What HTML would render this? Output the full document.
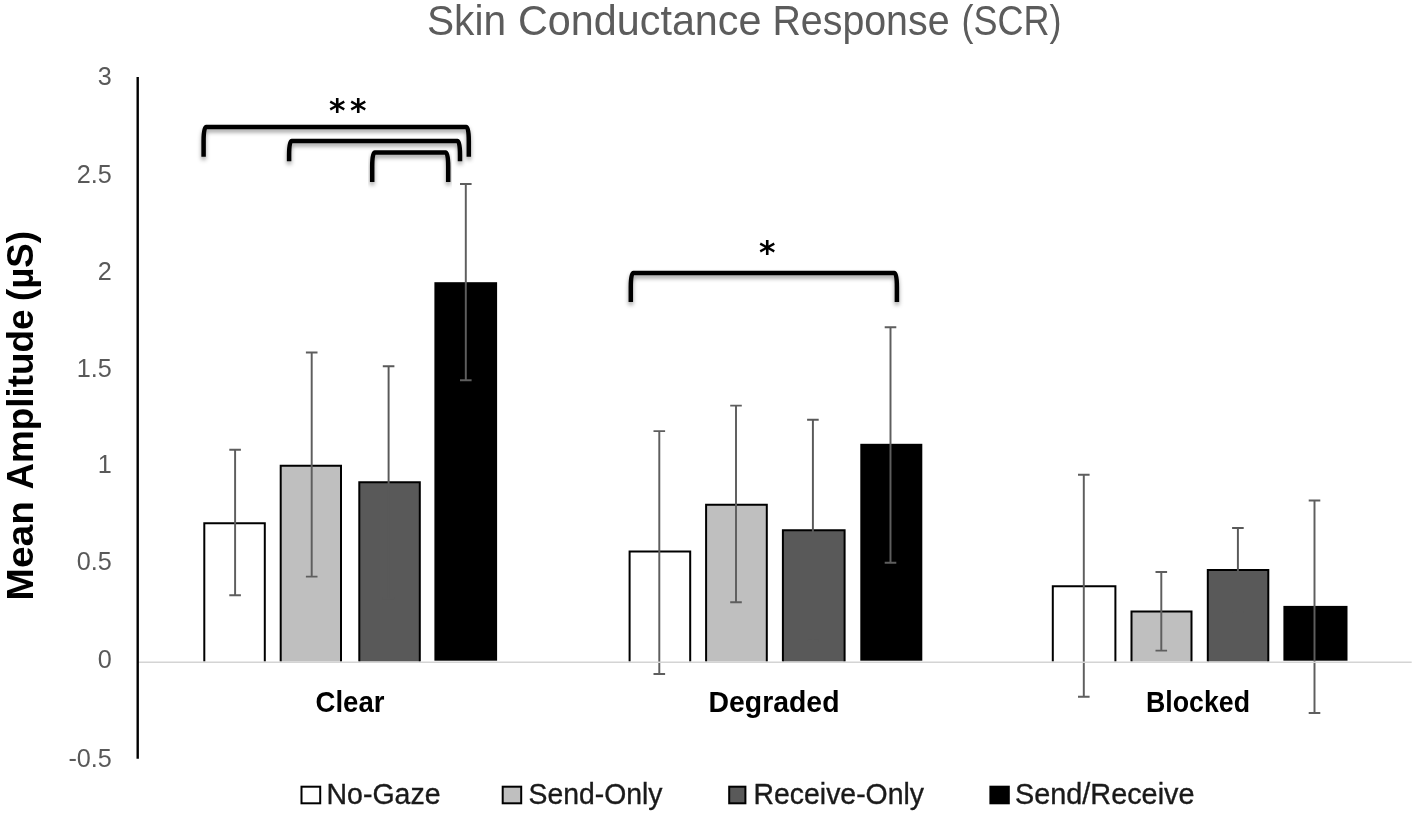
<!DOCTYPE html>
<html lang="en">
<head>
<meta charset="utf-8">
<title>Skin Conductance Response (SCR)</title>
<style>
html,body{margin:0;padding:0;background:#ffffff;}
body{width:1417px;height:816px;overflow:hidden;}
svg{display:block;filter:blur(0.45px);}
text{font-family:"Liberation Sans",sans-serif;}
.ttl{font-size:42.8px;fill:#5c5c5c;}
.ytl{font-size:37.6px;font-weight:bold;fill:#000000;}
.tick{font-size:25.2px;fill:#595959;text-anchor:end;}
.cat{font-size:29.5px;font-weight:bold;fill:#000000;}
.leg{font-size:29px;fill:#1a1a1a;stroke:#1a1a1a;stroke-width:0.35px;}
.star{font-family:"DejaVu Sans","Liberation Sans",sans-serif;font-weight:bold;font-size:31.5px;fill:#000000;text-anchor:middle;}
</style>
</head>
<body>
<svg width="1417" height="816" viewBox="0 0 1417 816">
<defs>
<filter id="sh" x="-5%" y="-30%" width="110%" height="180%">
<feDropShadow dx="0" dy="3" stdDeviation="2.2" flood-color="#000000" flood-opacity="0.38"/>
</filter>
</defs>
<rect x="0" y="0" width="1417" height="816" fill="#ffffff"/>
<text class="ttl"><tspan x="426.93" y="34.6" textLength="79.14" lengthAdjust="spacingAndGlyphs">Skin</tspan> <tspan x="517.99" y="34.6" textLength="243.52" lengthAdjust="spacingAndGlyphs">Conductance</tspan> <tspan x="772.48" y="34.6" textLength="177.04" lengthAdjust="spacingAndGlyphs">Response</tspan> <tspan x="961.45" y="34.6" textLength="100.11" lengthAdjust="spacingAndGlyphs">(SCR)</tspan></text>
<text class="cat" x="315.53" y="711.5" textLength="68.97" lengthAdjust="spacingAndGlyphs">Clear</text>
<text class="cat" x="708.50" y="711.5" textLength="131.00" lengthAdjust="spacingAndGlyphs">Degraded</text>
<text class="cat" x="1146.00" y="711.5" textLength="103.99" lengthAdjust="spacingAndGlyphs">Blocked</text>
<text class="leg" x="326.48" y="803.9" textLength="114.03" lengthAdjust="spacingAndGlyphs">No-Gaze</text>
<text class="leg" x="528.52" y="803.9" textLength="133.99" lengthAdjust="spacingAndGlyphs">Send-Only</text>
<text class="leg" x="753.50" y="803.9" textLength="170.50" lengthAdjust="spacingAndGlyphs">Receive-Only</text>
<text class="leg" x="1015.00" y="803.9" textLength="179.50" lengthAdjust="spacingAndGlyphs">Send/Receive</text>
<text class="ytl" transform="rotate(-90)"><tspan x="-600.54" y="33" textLength="99.57" lengthAdjust="spacingAndGlyphs">Mean</tspan> <tspan x="-489.50" y="33" textLength="180.00" lengthAdjust="spacingAndGlyphs">Amplitude</tspan> <tspan x="-301.00" y="33" textLength="70.00" lengthAdjust="spacingAndGlyphs">(µS)</tspan></text>
<text class="tick" x="111.8" y="85.2">3</text>
<text class="tick" x="111.8" y="182.7">2.5</text>
<text class="tick" x="111.8" y="279.8">2</text>
<text class="tick" x="111.8" y="376.5">1.5</text>
<text class="tick" x="111.8" y="473.3">1</text>
<text class="tick" x="111.8" y="570.4">0.5</text>
<text class="tick" x="111.8" y="667.5">0</text>
<text class="tick" x="111.8" y="767.2">-0.5</text>
<path d="M204.3 661.5V523.3H264.8V661.5" fill="#ffffff" stroke="#000000" stroke-width="2"/>
<path d="M280.7 661.5V465.7H341.0V661.5" fill="#bfbfbf" stroke="#000000" stroke-width="2"/>
<path d="M359.3 661.5V482.2H419.8V661.5" fill="#595959" stroke="#000000" stroke-width="2"/>
<rect x="434.4" y="282.2" width="62.7" height="378.5" fill="#000000"/>
<path d="M629.6 661.5V551.4H690.2V661.5" fill="#ffffff" stroke="#000000" stroke-width="2"/>
<path d="M706.1 661.5V504.8H766.8V661.5" fill="#bfbfbf" stroke="#000000" stroke-width="2"/>
<path d="M782.9 661.5V530.2H844.6V661.5" fill="#595959" stroke="#000000" stroke-width="2"/>
<rect x="860.3" y="443.8" width="62.0" height="216.9" fill="#000000"/>
<path d="M1052.8 661.5V586.2H1115.4V661.5" fill="#ffffff" stroke="#000000" stroke-width="2"/>
<path d="M1131.5 661.5V611.4H1191.5V661.5" fill="#bfbfbf" stroke="#000000" stroke-width="2"/>
<path d="M1207.8 661.5V570.0H1268.3V661.5" fill="#595959" stroke="#000000" stroke-width="2"/>
<rect x="1283.4" y="605.9" width="64.1" height="54.8" fill="#000000"/>
<path d="M235.1 449.7V595.3M229.3 449.7H240.9M229.3 595.3H240.9" fill="none" stroke="#5e5e5e" stroke-width="1.95"/>
<path d="M311.7 352.4V576.6M305.9 352.4H317.5M305.9 576.6H317.5" fill="none" stroke="#5e5e5e" stroke-width="1.95"/>
<path d="M388.6 366.2V598.2M382.8 366.2H394.4M382.8 598.2H394.4" fill="none" stroke="#595959" stroke-width="1.95"/>
<path d="M465.8 184.0V380.3M460.0 184.0H471.6M460.0 380.3H471.6" fill="none" stroke="#5e5e5e" stroke-width="1.95"/>
<path d="M659.3 431.1V674.0M653.5 431.1H665.1M653.5 674.0H665.1" fill="none" stroke="#5e5e5e" stroke-width="1.95"/>
<path d="M736.0 405.6V602.3M730.2 405.6H741.8M730.2 602.3H741.8" fill="none" stroke="#5e5e5e" stroke-width="1.95"/>
<path d="M812.9 419.7V640.7M807.1 419.7H818.7M807.1 640.7H818.7" fill="none" stroke="#595959" stroke-width="1.95"/>
<path d="M890.5 327.2V562.7M884.7 327.2H896.3M884.7 562.7H896.3" fill="none" stroke="#5e5e5e" stroke-width="1.95"/>
<path d="M1083.8 474.7V696.8M1078.0 474.7H1089.6M1078.0 696.8H1089.6" fill="none" stroke="#5e5e5e" stroke-width="1.95"/>
<path d="M1161.3 571.9V650.6M1155.5 571.9H1167.1M1155.5 650.6H1167.1" fill="none" stroke="#5e5e5e" stroke-width="1.95"/>
<path d="M1237.9 527.9V612.1M1232.1 527.9H1243.7M1232.1 612.1H1243.7" fill="none" stroke="#595959" stroke-width="1.95"/>
<path d="M1314.5 500.5V713.0M1308.7 500.5H1320.3M1308.7 713.0H1320.3" fill="none" stroke="#5e5e5e" stroke-width="1.95"/>
<line x1="137.6" y1="662.2" x2="1411.7" y2="662.2" stroke="#d4d4d4" stroke-width="1.6"/>
<line x1="137.7" y1="77" x2="137.7" y2="758.8" stroke="#000000" stroke-width="2.4"/>
<rect x="301.5" y="786.7" width="18.7" height="16.6" fill="#ffffff" stroke="#000000" stroke-width="2"/>
<rect x="502.7" y="786.7" width="18.5" height="16.6" fill="#bfbfbf" stroke="#000000" stroke-width="2"/>
<rect x="729.2" y="786.7" width="16.2" height="16.6" fill="#595959" stroke="#000000" stroke-width="2"/>
<rect x="990.4" y="786.7" width="18.4" height="16.6" fill="#000000" stroke="#000000" stroke-width="2"/>
<path d="M203.6 156.8V141.0Q203.6 127.0 206.2 127.0H466.2Q468.8 127.0 468.8 141.0V156.8" fill="none" stroke="#000000" stroke-width="4.5" stroke-linejoin="miter" filter="url(#sh)"/>
<path d="M289.1 161.3V155.1Q289.1 141.1 291.70000000000005 141.1H457.4Q460.0 141.1 460.0 155.1V161.3" fill="none" stroke="#000000" stroke-width="4.5" stroke-linejoin="miter" filter="url(#sh)"/>
<path d="M372.2 181.9V166.5Q372.2 152.5 374.8 152.5H445.59999999999997Q448.2 152.5 448.2 166.5V181.9" fill="none" stroke="#000000" stroke-width="4.5" stroke-linejoin="miter" filter="url(#sh)"/>
<path d="M630.8 302.0V286.9Q630.8 272.9 633.4 272.9H894.3Q896.9 272.9 896.9 286.9V302.0" fill="none" stroke="#000000" stroke-width="4.5" stroke-linejoin="miter" filter="url(#sh)"/>
<text class="star" x="337.3" y="121.0">*</text>
<text class="star" x="358.2" y="121.0">*</text>
<text class="star" x="767.2" y="262.9">*</text>
</svg>
</body>
</html>
